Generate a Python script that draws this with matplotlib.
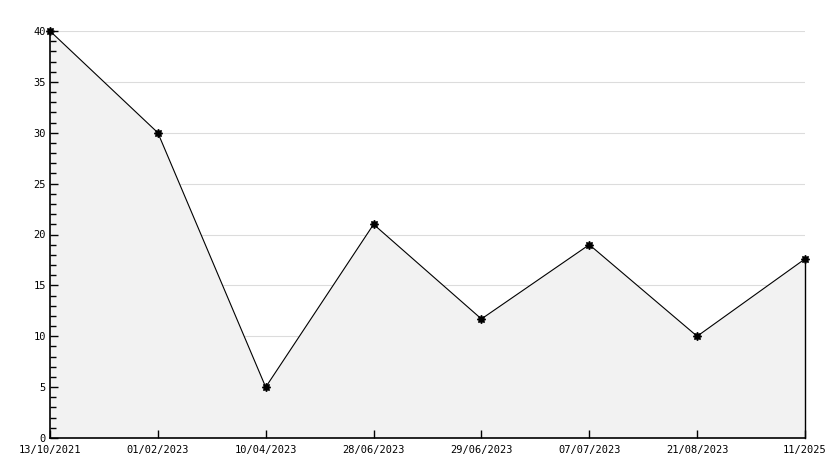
import matplotlib
matplotlib.use("Agg")
import matplotlib.pyplot as plt
from matplotlib.ticker import MultipleLocator

dates = ["13/10/2021", "01/02/2023", "10/04/2023", "28/06/2023",
         "29/06/2023", "07/07/2023", "21/08/2023", "11/2025"]
values = [40, 30, 5, 21, 11.7, 19, 10, 17.6]

fig = plt.figure(figsize=(8.34, 4.68), dpi=100)
ax = fig.add_axes([50 / 834, 30 / 468, 755 / 834, 407 / 468])

x = list(range(len(dates)))
ax.fill_between(x, values, 0, facecolor="#f2f2f2", edgecolor="none", zorder=1)
ax.plot(x, values, color="black", lw=0.8, zorder=3, clip_on=False)
ax.plot([x[-1], x[-1]], [values[-1], 0], color="black", lw=1.0, zorder=3,
        clip_on=False)
ax.plot(x, values, ls="none", marker=(8, 1, 0), ms=6, color="black", zorder=4,
        clip_on=False)

ax.set_xlim(x[0], x[-1])
ax.set_ylim(0, 40)
ax.set_xticks(x)
ax.set_xticklabels(dates)
ax.yaxis.set_major_locator(MultipleLocator(5))
ax.yaxis.set_minor_locator(MultipleLocator(1))

# grid under the fill, ticks above it
ax.hlines(ax.get_yticks()[1:], x[0], x[-1], color="#dcdcdc", lw=0.8, zorder=0)
ax.set_axisbelow(False)

for s in ("top", "right"):
    ax.spines[s].set_visible(False)
for s in ("left", "bottom"):
    ax.spines[s].set_linewidth(1.2)
    ax.spines[s].set_zorder(5)

ax.tick_params(axis="both", which="major", direction="in", length=6, width=1,
               labelsize=7.5, pad=3)
ax.tick_params(axis="x", which="major", pad=5)
ax.tick_params(axis="y", which="minor", direction="in", length=4, width=1,
               left=True)
for lab in ax.get_xticklabels() + ax.get_yticklabels():
    lab.set_fontfamily("DejaVu Sans Mono")

fig.savefig("out.png", dpi=100)
